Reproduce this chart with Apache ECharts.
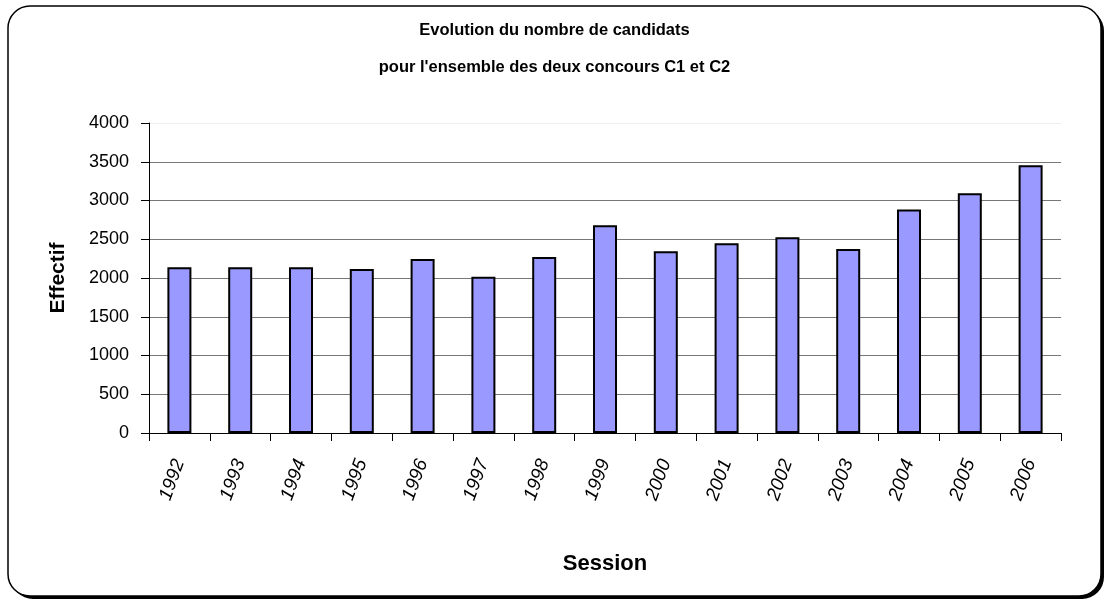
<!DOCTYPE html>
<html>
<head>
<meta charset="utf-8">
<script src="https://cdn.jsdelivr.net/npm/echarts@6/dist/echarts.min.js"></script>
<style>
html,body{margin:0;padding:0;background:#fff;}
#chart{width:1109px;height:601px;}
</style>
</head>
<body>
<div id="chart"></div>
<script>
const sessions = ['1992','1993','1994','1995','1996','1997','1998','1999','2000','2001','2002','2003','2004','2005','2006'];
const effectifs = [2140, 2140, 2140, 2115, 2245, 2015, 2270, 2680, 2345, 2450, 2525, 2375, 2885, 3095, 3455];
const titleLines = ['Evolution du nombre de candidats', "pour l'ensemble des deux concours C1 et C2"];

const chart = echarts.init(document.getElementById('chart'), null, {renderer: 'canvas'});
const FONT = "'Liberation Sans', Arial, sans-serif";
const option = {
  animation: false,
  backgroundColor: '#ffffff',
  graphic: [{
    type: 'rect', z: -20,
    shape: {x: 11, y: 9, width: 1093, height: 590, r: 22},
    style: {fill: '#000000'}
  }, {
    type: 'rect', z: -10,
    shape: {x: 8, y: 6, width: 1093, height: 590, r: 22},
    style: {fill: '#ffffff', stroke: '#000000', lineWidth: 1.5}
  }],
  title: {
    text: titleLines.join('\n'),
    left: 'center', top: 7,
    textStyle: {fontFamily: FONT, fontWeight: 'bold', fontSize: 16.5, color: '#000', lineHeight: 37}
  },
  grid: {left: 149, right: 48, top: 123, bottom: 168, containLabel: false},
  xAxis: {
    type: 'category',
    data: sessions,
    name: 'Session',
    nameLocation: 'middle',
    nameGap: 120,
    nameTextStyle: {fontFamily: FONT, fontWeight: 'bold', fontSize: 22, color: '#000'},
    axisLine: {lineStyle: {color: '#000', width: 1}},
    axisTick: {show: true, inside: false, length: 8, alignWithLabel: false, lineStyle: {color: '#000'}},
    axisLabel: {rotate: 70, margin: 27, fontFamily: FONT, fontStyle: 'italic', fontSize: 19, color: '#000'},
    splitLine: {show: false}
  },
  yAxis: {
    type: 'value',
    min: 0, max: 4000, interval: 500,
    name: 'Effectif',
    nameLocation: 'middle',
    nameGap: 80,
    nameRotate: 90,
    nameTextStyle: {fontFamily: FONT, fontWeight: 'bold', fontSize: 21, color: '#000'},
    axisLine: {show: true, lineStyle: {color: '#000', width: 1}},
    axisTick: {show: true, inside: false, length: 8, lineStyle: {color: '#000'}},
    axisLabel: {margin: 20, fontFamily: FONT, fontSize: 18, color: '#000', formatter: function (v) { return String(v); }},
    splitLine: {show: true, lineStyle: {color: ['#777','#777','#777','#777','#777','#777','#777','#777','#eeeeee'], width: 1}}
  },
  series: [{
    type: 'bar',
    data: effectifs,
    barWidth: 24,
    itemStyle: {color: '#9999ff', borderColor: '#000', borderWidth: 2}
  }]
};
chart.setOption(option);
</script>
</body>
</html>
